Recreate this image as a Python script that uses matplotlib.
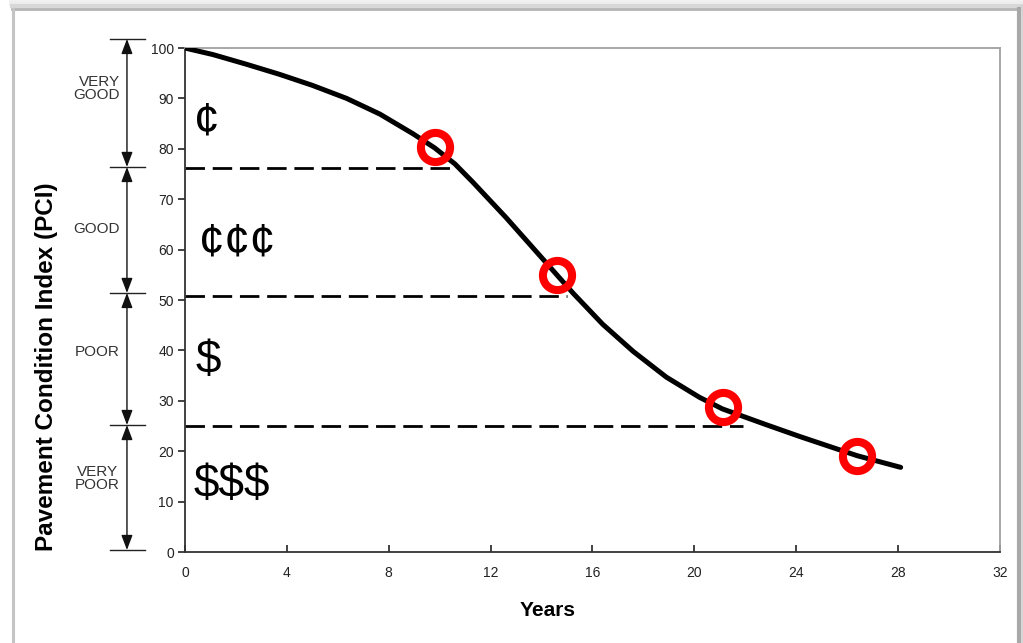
import matplotlib
matplotlib.use('Agg')
import matplotlib.pyplot as plt
from matplotlib.lines import Line2D
import matplotlib.transforms as mtransforms

plt.rcParams['font.family'] = ['Liberation Sans', 'DejaVu Sans']

# deterioration curve
years = [0, 1.1, 2.4, 3.7, 5.0, 6.35, 7.65, 8.95, 9.8, 10.6, 11.3, 12.6, 13.9, 14.6,
         15.25, 16.4, 17.6, 18.9, 20.2, 21.1, 22.8, 24.15, 25.45, 26.4, 28.1]
pci = [100, 98.7, 96.8, 94.8, 92.6, 90.0, 86.9, 83.0, 80.2, 77.0, 73.4, 66.4, 59.0, 55.0,
       51.3, 45.2, 39.8, 34.7, 30.7, 28.4, 25.3, 22.9, 20.7, 19.1, 16.8]

# red circles
circle_years = [9.82, 14.6, 21.12, 26.4]
circle_pci = [80.4, 55.0, 28.7, 19.0]

# dashed thresholds: level and where each stops
dash_levels = [76.2, 50.7, 25.1]
dash_ends = [10.4, 15.0, 21.9]

# condition bands on the left
band_edges = [101.8, 76.4, 51.4, 25.2, 0.4]
band_labels = ['VERY\nGOOD', 'GOOD', 'POOR', 'VERY\nPOOR']
band_label_y = [91.9, 64.0, 39.7, 14.5]

# cost symbols
cost_labels = ['\u00a2', '\u00a2\u00a2\u00a2', '$', '$$$']
cost_x = [0.35, 0.55, 0.42, 0.35]
cost_y = [85.2, 61.2, 38.0, 13.2]

xticks = list(range(0, 33, 4))
yticks = list(range(0, 101, 10))

fig = plt.figure(figsize=(10.23, 6.43), dpi=100)
ax = fig.add_axes([0.1808, 0.1415, 0.7967, 0.7838])

ax.plot(years, pci, color='black', lw=3.6, solid_capstyle='round', solid_joinstyle='round', zorder=3)
for lvl, end in zip(dash_levels, dash_ends):
    ax.plot([0, end], [lvl, lvl], color='black', lw=2, dashes=(7, 2.8), zorder=2)
ax.plot(circle_years, circle_pci, 'o', ms=21, mfc='none', mec='#ff0000', mew=5.8, zorder=4)

for s, x, y in zip(cost_labels, cost_x, cost_y):
    ax.text(x, y, s, fontsize=33, ha='left', va='center', color='black')

ax.set_xlim(0, 32)
ax.set_ylim(0, 100)
ax.set_xticks(xticks)
ax.set_yticks(yticks)
ax.tick_params(axis='x', direction='in', length=5, width=1.2, pad=10, labelsize=10, colors='#222222')
ax.tick_params(axis='y', direction='out', length=5, width=1.2, pad=3, labelsize=10, colors='#222222')
for side in ['left', 'bottom']:
    ax.spines[side].set_color('#333333')
    ax.spines[side].set_linewidth(1.3)
for side in ['top', 'right']:
    ax.spines[side].set_color('#a0a0a0')
    ax.spines[side].set_linewidth(1.3)

ax.set_xlabel('Years', fontsize=15, fontweight='bold', labelpad=17)
ax.xaxis.set_label_coords(0.445, -0.098)
ax.set_ylabel('Pavement Condition Index (PCI)', fontsize=17.5, fontweight='bold')
ax.yaxis.set_label_coords(-0.156, 0.367)

# band brackets to the left of the axis
trans = mtransforms.blended_transform_factory(ax.transAxes, ax.transData)
bx = (127 - 185) / 815.0
for e in band_edges:
    ax.plot([(110 - 185) / 815.0, (145 - 185) / 815.0], [e, e], color='#222222', lw=1,
            transform=trans, clip_on=False)
for top, bot in zip(band_edges[:-1], band_edges[1:]):
    ax.annotate('', xy=(bx, top), xytext=(bx, bot), xycoords=trans, textcoords=trans,
                arrowprops=dict(arrowstyle='<|-|>,head_length=0.45,head_width=0.17',
                                mutation_scale=20, color='#111111', lw=1,
                                shrinkA=0, shrinkB=0), annotation_clip=False)
for lab, y in zip(band_labels, band_label_y):
    al = 'right' if 'GOOD' in lab else 'center'
    ax.text((120 - 185) / 815.0, y, lab, transform=trans, fontsize=11, color='#333333',
            ha='right', va='center', multialignment=al, linespacing=0.9)

# outer frame with soft shadow
W, H = 1023.0, 643.0
for off, c, w in [(6, '#eeeeee', 4), (3, '#d8d8d8', 3), (0, '#b4b4b4', 2)]:
    fig.add_artist(Line2D([12 / W, (1018 + off) / W], [1 - (9 - off) / H, 1 - (9 - off) / H],
                          color=c, lw=w, transform=fig.transFigure))
fig.add_artist(Line2D([12.5 / W, 12.5 / W], [0, 1 - 9 / H], color='#c4c4c4', lw=2.2, transform=fig.transFigure))
fig.add_artist(Line2D([1019 / W, 1019 / W], [0, 1 - 9 / H], color='#a8a8a8', lw=3, transform=fig.transFigure))
fig.add_artist(Line2D([1021.5 / W, 1021.5 / W], [0, 1 - 6 / H], color='#d4d4d4', lw=2, transform=fig.transFigure))

fig.savefig('out.png', dpi=100)
